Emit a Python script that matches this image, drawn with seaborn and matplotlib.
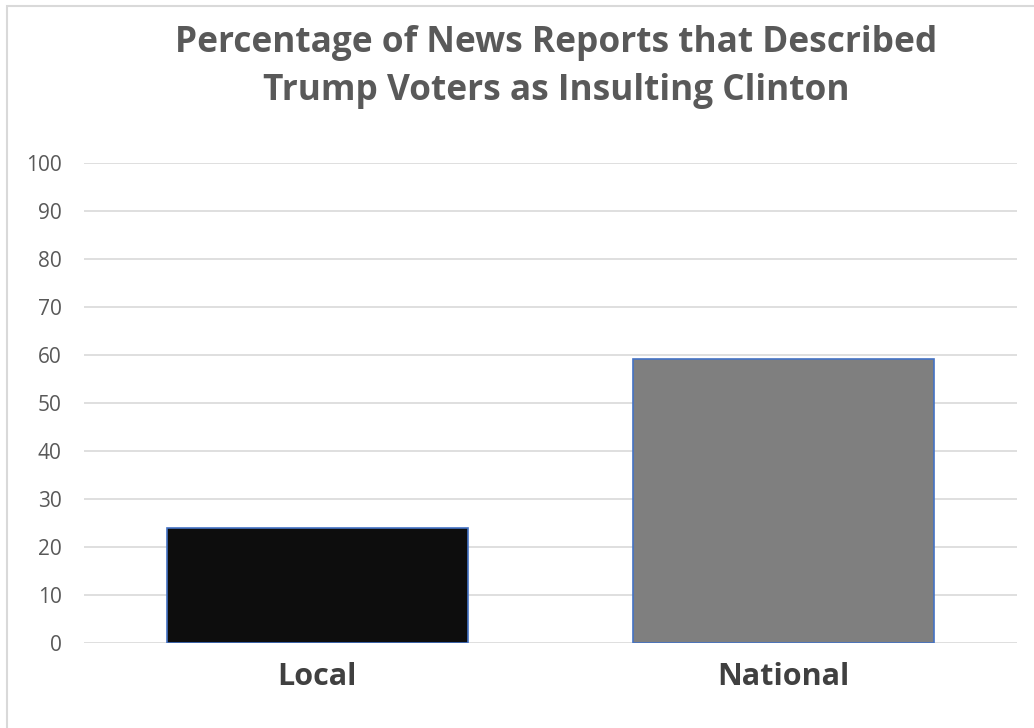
import matplotlib.pyplot as plt
import matplotlib.patches as mpatches
import pandas as pd
import seaborn as sns

categories = ["Local", "National"]
values = [24.0, 59.2]
bar_colors = ["#0d0d0d", "#7f7f7f"]
title = "Percentage of News Reports that Described\nTrump Voters as Insulting Clinton"
y_ticks = list(range(0, 101, 10))

sns.set_theme(style="white")
plt.rcParams["font.family"] = ["Open Sans", "DejaVu Sans"]

df = pd.DataFrame({"category": categories, "value": values})

fig = plt.figure(figsize=(10.34, 7.28), dpi=100)
ax = fig.add_axes([84 / 1034, 1 - 643 / 728, 933 / 1034, 480 / 728])

sns.barplot(data=df, x="category", y="value", hue="category",
            palette=bar_colors, width=0.645, edgecolor="#4472c4",
            linewidth=1.2, legend=False, ax=ax, zorder=3)

ax.set_ylim(0, 100)
ax.set_yticks(y_ticks)
ax.yaxis.grid(True, color="#d9d9d9", linewidth=1.2, zorder=0)
ax.set_axisbelow(True)
for s in ax.spines.values():
    s.set_visible(False)
ax.set_xlabel("")
ax.set_ylabel("")
ax.tick_params(axis="y", length=0, pad=16, labelsize=15, labelcolor="#595959")
ax.tick_params(axis="x", length=0, pad=14, labelsize=22, labelcolor="#404040")
for lbl in ax.get_xticklabels():
    lbl.set_fontweight("bold")

fig.suptitle(title, x=556 / 1034, y=1 - 25 / 728, fontsize=25.4,
             fontweight="bold", color="#595959", linespacing=1.45)

# light chart-area border (top/left visible as in the reference)
fig.patches.append(mpatches.Rectangle((7 / 1034, -0.1), 1.2, 1 - 6 / 728 + 0.1,
                                      transform=fig.transFigure, fill=False,
                                      edgecolor="#d9d9d9", linewidth=1.5))

fig.savefig("out.png", dpi=100)
